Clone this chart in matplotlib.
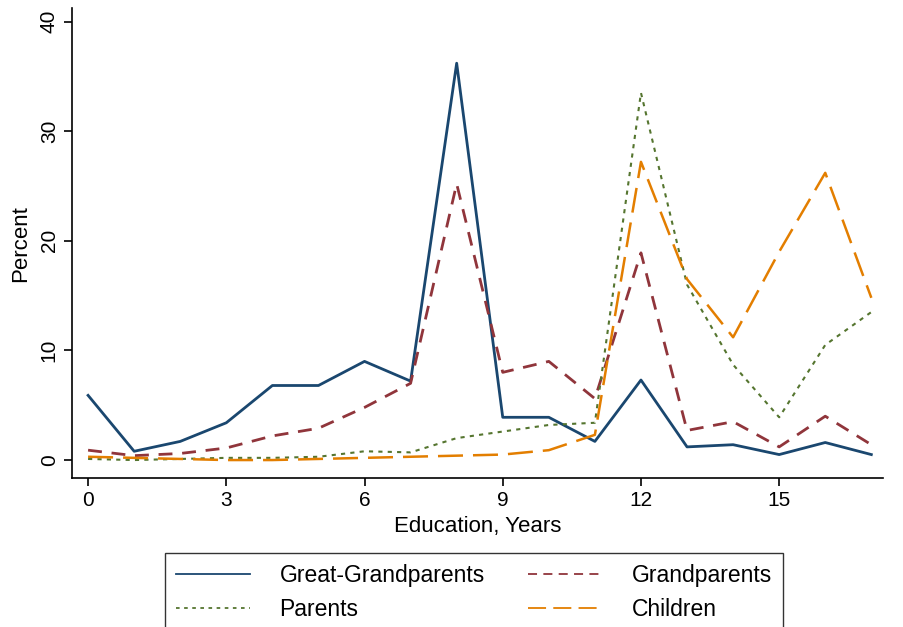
import matplotlib
matplotlib.use('Agg')
import matplotlib.pyplot as plt

plt.rcParams['font.family'] = ['Liberation Sans', 'DejaVu Sans']

# years of education
years = list(range(0, 18))

# percent by generation
great_grandparents = [5.9, 0.8, 1.7, 3.4, 6.8, 6.8, 9.0, 7.2, 36.2, 3.9,
                      3.9, 1.7, 7.3, 1.2, 1.4, 0.5, 1.6, 0.5]
grandparents = [0.9, 0.4, 0.6, 1.1, 2.2, 2.9, 4.8, 7.0, 25.2, 8.0,
                9.0, 5.6, 18.9, 2.7, 3.5, 1.2, 4.0, 1.4]
parents = [0.1, 0.0, 0.1, 0.2, 0.2, 0.3, 0.8, 0.7, 2.0, 2.6,
           3.2, 3.4, 33.5, 16.0, 8.7, 3.9, 10.5, 13.5]
children = [0.3, 0.2, 0.1, 0.0, 0.0, 0.1, 0.2, 0.3, 0.4, 0.5,
            0.9, 2.3, 27.2, 16.5, 11.2, 19.0, 26.2, 14.8]

fig = plt.figure(figsize=(9.04, 6.27), dpi=100)
ax = fig.add_axes([0.0796, 0.2376, 0.897, 0.749])

l1, = ax.plot(years, great_grandparents, color='#1a476f', lw=2.0, ls='-',
              label='Great-Grandparents')
l2, = ax.plot(years, grandparents, color='#90353b', lw=2.0, ls=(0, (5, 3.5)),
              label='Grandparents')
l3, = ax.plot(years, parents, color='#55752f', lw=1.5, ls=(0, (2, 2.5)),
              label='Parents')
l4, = ax.plot(years, children, color='#e37e00', lw=1.8, ls=(0, (10, 4)),
              label='Children')

ax.set_xlim(-0.35, 17.25)
ax.set_ylim(-1.64, 41.2)
ax.set_xticks(range(0, 18, 3))
ax.set_yticks(range(0, 41, 10))
ax.spines['top'].set_visible(False)
ax.spines['right'].set_visible(False)
for s in ('left', 'bottom'):
    ax.spines[s].set_linewidth(1.2)
ax.tick_params(direction='out', length=6, width=1.2, labelsize=15)
for lab in ax.get_yticklabels():
    lab.set_rotation(90)
    lab.set_va('center')
ax.set_xlabel('Education, Years', fontsize=16, labelpad=4)
ax.set_ylabel('Percent', fontsize=16, labelpad=6)

# row-wise order like the original: GG, Grandparents / Parents, Children
leg = fig.legend([l1, l3, l2, l4],
                 ['Great-Grandparents', 'Parents', 'Grandparents', 'Children'],
                 loc='upper left', bbox_to_anchor=(0.1825, 0.118),
                 ncol=2, fontsize=16.5, frameon=True, fancybox=False,
                 edgecolor='black', handlelength=3.2, handletextpad=1.3,
                 columnspacing=1.9, borderpad=0.5, labelspacing=0.45,
                 borderaxespad=0)
leg.get_frame().set_linewidth(1.0)
for h in leg.legend_handles:
    h.set_linewidth(1.3)

fig.savefig('out.png', dpi=100)
